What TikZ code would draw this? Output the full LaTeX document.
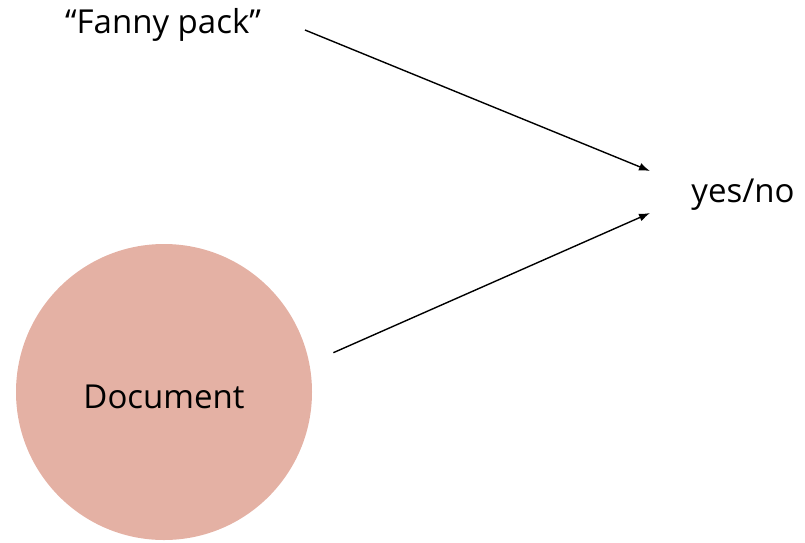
\documentclass[tikz,border=0pt]{standalone}
\usepackage{fontspec}
\setmainfont{Open Sans}
\usetikzlibrary{arrows.meta}
\definecolor{docpink}{HTML}{E4B1A4}

\begin{document}
\begin{tikzpicture}[x=1pt, y=1pt,
    word/.style={inner sep=0, font=\fontsize{33}{40}\selectfont},
    arr/.style={line width=1.4pt, -{Latex[length=11pt, width=8pt]}}]
                \useasboundingbox (0,0) rectangle (805,-542);
                \node[word](fanny) at (163,-25) {“Fanny pack”};
                \node[word](yesno) at (743,-195) {yes/no};
                \node[circle, fill=docpink, minimum size=296, inner sep=0, word, text height=34pt](doc) at (164,-392) {Document};

                                \draw[arr] ([shift={(142,-5)}]fanny.center) -- ([shift={(-93,24)}]yesno.center);
                                \draw[arr] ([shift={(25,6)}]doc.13) -- ([shift={(-93,-18)}]yesno.center);
\end{tikzpicture}
\end{document}
